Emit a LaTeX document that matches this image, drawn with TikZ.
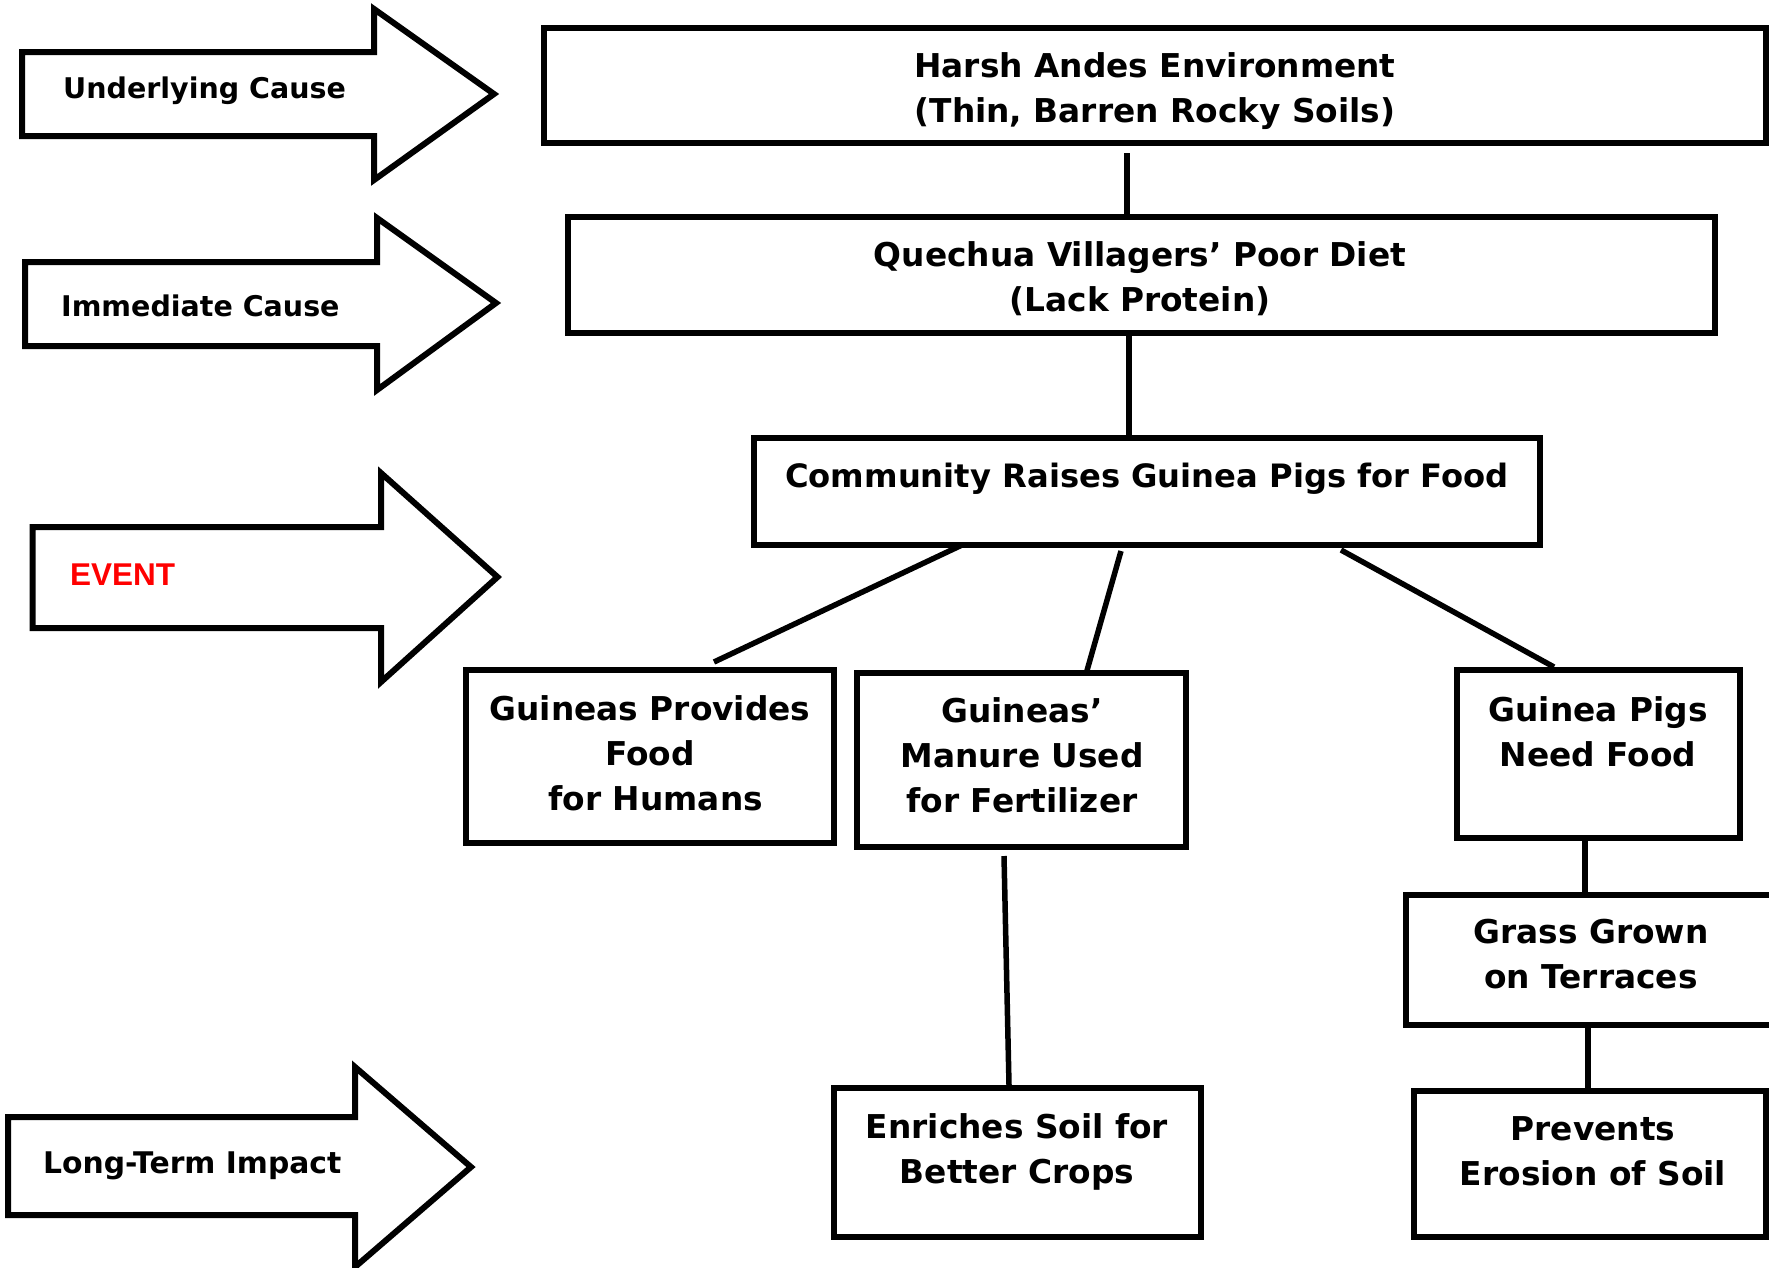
\documentclass[tikz,border=0pt]{standalone}
\usepackage{fontspec}
\setmainfont{DejaVu Sans}
\newfontfamily\evfont{Liberation Sans}
\definecolor{evred}{RGB}{255,0,0}
\begin{document}
\begin{tikzpicture}[x=1pt,y=-1pt,
  box/.style={draw, line width=6pt, inner sep=0pt},
  txt/.style={font=\fontsize{32.8}{45}\selectfont\bfseries, align=center, inner sep=0pt, anchor=base},
  lbl/.style={font=\fontsize{28.5}{34}\selectfont\bfseries, anchor=base west, inner sep=0pt},
  blockarrow/.style={draw, line width=6pt, line join=miter, fill=white},
  conn/.style={draw, line width=5.5pt}]
\useasboundingbox (0,0) rectangle (1769,1267);

% stage arrows on the left
\draw[blockarrow] (22,52) -- (374,52) -- (374,9) -- (494,94) -- (374,180) -- (374,136) -- (22,136) -- cycle;
\draw[blockarrow] (25,262) -- (377,262) -- (377,218) -- (496,303) -- (377,390) -- (377,346) -- (25,346) -- cycle;
\draw[blockarrow] (32.5,527) -- (381,527) -- (381,473) -- (497.5,577) -- (381,682) -- (381,628) -- (32.5,628) -- cycle;
\draw[blockarrow] (8,1117) -- (355,1117) -- (355,1067) -- (471,1167) -- (355,1267) -- (355,1215) -- (8,1215) -- cycle;

\node[lbl] (under) at (63,98) {Underlying Cause};
\node[lbl] (immed) at (61,316) {Immediate Cause};
\node[lbl, font=\fontsize{31.5}{36}\selectfont\evfont\bfseries, text=evred] (event) at (70,585) {EVENT};
\node[lbl, font=\fontsize{29.8}{34}\selectfont\bfseries] (longterm) at (43,1173) {Long-Term Impact};

% boxes
\node[box, minimum width=1222pt, minimum height=115pt] (harsh) at (1155,85.5) {};
\node[box, minimum width=1147pt, minimum height=116pt] (diet) at (1141.5,275) {};
\node[box, minimum width=786pt, minimum height=107pt] (comm) at (1147,491.5) {};
\node[box, minimum width=368pt, minimum height=173pt] (food) at (650,756.5) {};
\node[box, minimum width=329pt, minimum height=174pt] (manure) at (1021.5,760) {};
\node[box, minimum width=283pt, minimum height=168pt] (need) at (1598.5,754) {};
\node[box, minimum width=369pt, minimum height=130pt] (grass) at (1590.5,960) {};
\node[box, minimum width=352pt, minimum height=146pt] (prevent) at (1590,1164) {};
\node[box, minimum width=367pt, minimum height=149pt] (enrich) at (1017.5,1162.5) {};

% box texts (placed by the baseline of their last line)
\node[txt] (harshT) at (1155,122) {Harsh Andes Environment\\(Thin, Barren Rocky Soils)};
\node[txt] (dietT) at (1140,311) {Quechua Villagers’ Poor Diet\\(Lack Protein)};
\node[txt, font=\fontsize{32.2}{45}\selectfont\bfseries] (commT) at (1147,487) {Community Raises Guinea Pigs for Food};
\node[txt] (foodT) at (650,810) {Guineas Provides\\Food\\~for Humans};
\node[txt] (manureT) at (1022,812) {Guineas’\\Manure Used\\for Fertilizer};
\node[txt] (needT) at (1598,766) {Guinea Pigs\\Need Food};
\node[txt] (grassT) at (1591,988) {Grass Grown\\on Terraces};
\node[txt] (preventT) at (1593,1185) {Prevents\\Erosion of Soil};
\node[txt] (enrichT) at (1017,1183) {Enriches Soil for\\Better Crops};

% connectors
\draw[conn] ([xshift=-28pt,yshift=-7pt]harsh.south) -- ([xshift=-14.5pt]diet.north);
\draw[conn] ([xshift=-12.5pt]diet.south) -- ([xshift=-18pt]comm.north);
\draw[conn] ([xshift=211pt,yshift=3pt]comm.south west) -- ([xshift=251pt,yshift=5pt]food.north west);
\draw[conn] ([xshift=370pt,yshift=-3pt]comm.south west) -- ([xshift=232pt,yshift=-4pt]manure.north west);
\draw[conn] ([xshift=590pt,yshift=-2pt]comm.south west) -- ([xshift=100pt]need.north west);
\draw[conn] ([xshift=150pt,yshift=-6pt]manure.south west) -- ([xshift=178pt]enrich.north west);
\draw[conn] ([xshift=-13.5pt]need.south) -- ([xshift=-5.5pt]grass.north);
\draw[conn] ([xshift=-2.5pt]grass.south) -- ([xshift=-2pt]prevent.north);
\end{tikzpicture}
\end{document}
